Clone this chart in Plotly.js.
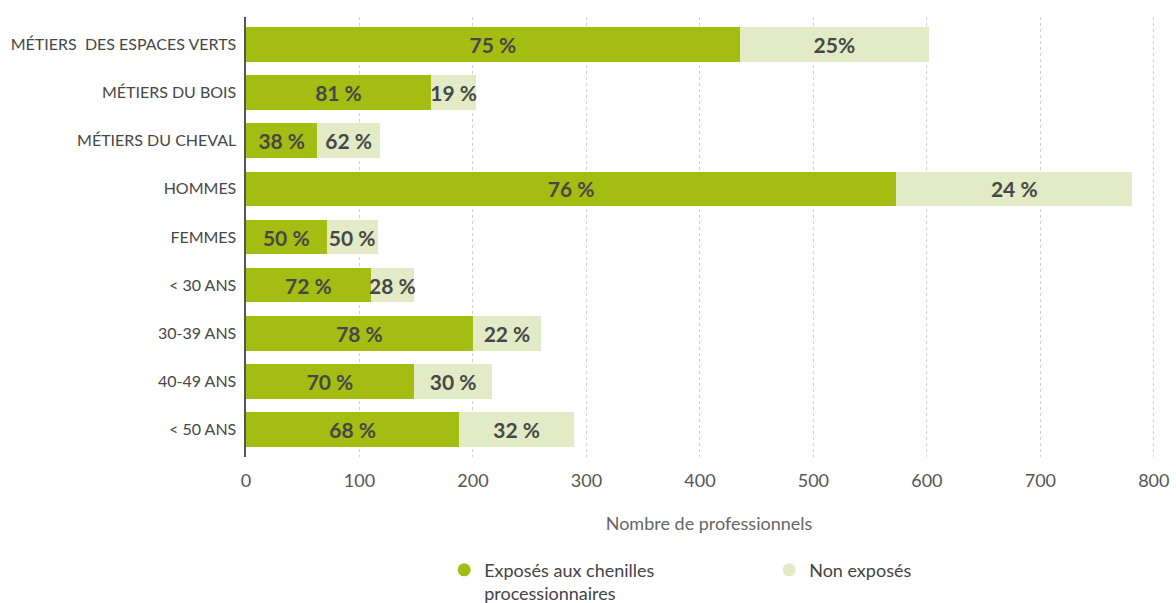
<!DOCTYPE html>
<html>
<head>
<meta charset="utf-8">
<script src="https://cdn.plot.ly/plotly-3.0.1.min.js"></script>
<style>
html, body { margin: 0; padding: 0; background: #ffffff; }
#chart { width: 1176px; height: 603px; }
</style>
</head>
<body>
<div id="chart"></div>
<script>
// ---- Data ----
const categories = [
  "MÉTIERS  DES ESPACES VERTS",
  "MÉTIERS DU BOIS",
  "MÉTIERS DU CHEVAL",
  "HOMMES",
  "FEMMES",
  "< 30 ANS",
  "30-39 ANS",
  "40-49 ANS",
  "< 50 ANS"
];
const exposes    = [435, 163, 63, 573, 71, 110, 200, 148, 188];
const nonExposes = [167, 40, 55, 208, 45, 38, 60, 69, 101];
const pctExposes    = ["75 %", "81 %", "38 %", "76 %", "50 %", "72 %", "78 %", "70 %", "68 %"];
const pctNonExposes = ["25%", "19 %", "62 %", "24 %", "50 %", "28 %", "22 %", "30 %", "32 %"];
const seriesNames = ["Exposés aux chenilles<br>processionnaires", "Non exposés"];
const xTicks = [0, 100, 200, 300, 400, 500, 600, 700, 800];
const xTitle = "Nombre de professionnels";

// ---- Styles ----
const GREEN = "#a3bd13";
const LIGHT = "#e3eac6";
const FONT = "Lato, 'Open Sans', sans-serif";
const TXT = "#474747";

const barText = { family: FONT, size: 21, color: TXT, weight: 700 };

const traces = [
  {
    type: "bar", orientation: "h",
    y: categories, x: exposes,
    text: pctExposes, textposition: "inside", insidetextanchor: "middle",
    constraintext: "none", textangle: 0,
    textfont: barText, insidetextfont: barText,
    marker: { color: GREEN, line: { width: 0 } },
    width: 0.72, showlegend: false, hoverinfo: "skip", cliponaxis: false
  },
  {
    type: "bar", orientation: "h",
    y: categories, x: nonExposes,
    text: pctNonExposes, textposition: "inside", insidetextanchor: "middle",
    constraintext: "none", textangle: 0,
    textfont: barText, insidetextfont: barText,
    marker: { color: LIGHT, line: { width: 0 } },
    width: 0.72, showlegend: false, hoverinfo: "skip", cliponaxis: false
  },
  // legend-only entries with round markers
  {
    type: "scatter", mode: "markers", x: [null], y: [null],
    name: seriesNames[0], marker: { color: GREEN, size: 13 }, hoverinfo: "skip"
  },
  {
    type: "scatter", mode: "markers", x: [null], y: [null],
    name: seriesNames[1], marker: { color: LIGHT, size: 13 }, hoverinfo: "skip"
  }
];

const layout = {
  width: 1176, height: 603,
  margin: { l: 246, r: 4, t: 17, b: 146, autoexpand: false },
  paper_bgcolor: "#ffffff", plot_bgcolor: "#ffffff",
  barmode: "stack",
  hovermode: false,
  font: { family: FONT, color: TXT },
  xaxis: {
    range: [0, 816],
    tickmode: "array", tickvals: xTicks,
    showgrid: true, gridcolor: "#d2d2d2", griddash: "dot", gridwidth: 1,
    zeroline: false, showline: false,
    ticks: "", ticklabelstandoff: 11,
    tickfont: { family: FONT, size: 18, color: "#555555" },
    title: { text: xTitle, font: { family: FONT, size: 18, color: "#666666" }, standoff: 27 }
  },
  yaxis: {
    type: "category",
    categoryorder: "array", categoryarray: categories,
    range: [8.57, -0.57],
    showgrid: false, zeroline: false,
    showline: true, linecolor: "#555555", linewidth: 2.5,
    ticks: "", ticklabelstandoff: 4,
    tickfont: { family: FONT, size: 16, color: TXT }
  },
  legend: {
    orientation: "h",
    x: 0.214, xanchor: "left",
    y: -0.215, yanchor: "top",
    valign: "top",
    font: { family: FONT, size: 18, color: "#444444" },
    bgcolor: "rgba(0,0,0,0)",
    traceorder: "normal",
    entrywidth: 280
  }
};

Plotly.newPlot("chart", traces, layout, { staticPlot: true, displayModeBar: false });
</script>
</body>
</html>
